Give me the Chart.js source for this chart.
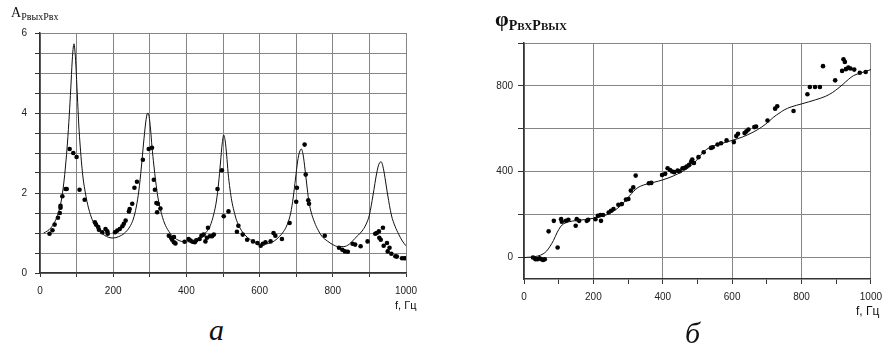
<!DOCTYPE html>
<html>
<head>
<meta charset="utf-8">
<script src="https://cdn.jsdelivr.net/npm/chart.js@4"></script>
<style>
  body { margin: 0; background: #fff; width: 889px; height: 347px; position: relative; overflow: hidden; }
  .box { position: absolute; }
  .txt { position: absolute; white-space: nowrap; color: #111; }
  .serif { font-family: "Liberation Serif", "Times New Roman", serif; }
  .sans { font-family: "Liberation Sans", Arial, sans-serif; }
</style>
</head>
<body>
<div class="box" style="left:0;top:0;width:430px;height:300px"><canvas id="chartAmp"></canvas></div>
<div class="box" style="left:470px;top:0;width:419px;height:310px"><canvas id="chartPhase"></canvas></div>

<div class="txt serif" style="left:11px;top:5px;font-size:14px">A<span style="font-size:10px;position:relative;top:3px">PвыхPвх</span></div>
<div class="txt serif" style="left:495px;top:6px;font-size:22px;font-weight:bold">φ<span style="font-size:14px;position:relative;top:4px">P<span style="font-size:11px">ВХ</span>P<span style="font-size:11px">ВЫХ</span></span></div>
<div class="txt sans" style="left:395px;top:299px;font-size:11px">f, Гц</div>
<div class="txt sans" style="left:856px;top:304px;font-size:12px">f, Гц</div>
<div class="txt serif" style="left:209px;top:313px;font-size:30px;font-style:italic">а</div>
<div class="txt serif" style="left:685px;top:316px;font-size:30px;font-style:italic">б</div>

<script>
// --- амплитуда: расчётная кривая ---
const ampCurveF = [10, 20, 30, 40, 50, 58, 65, 70, 75, 80, 84, 88, 91, 93, 95, 98, 102, 106, 110, 114, 118, 124, 130, 140, 150, 162, 175, 188,
  200, 215, 230, 245, 255, 263, 270, 277, 283, 288, 292, 295, 298, 302, 306, 311, 316, 322, 330, 340, 352, 365, 380, 395,
  410, 425, 440, 455, 465, 475, 482, 488, 493, 498, 502, 506, 510, 514, 519, 524, 530, 537, 548, 560, 575, 590,
  605, 620, 640, 655, 665, 675, 685, 692, 698, 704, 709, 714, 719, 724, 729, 734, 740, 750, 760, 770, 785,
  800, 815, 830, 845, 860, 870, 880, 890, 900, 910, 920, 926, 932, 938, 944, 950, 960, 970, 980, 990, 1000];
const ampCurveA = [1.0, 1.05, 1.13, 1.27, 1.5, 1.8, 2.25, 2.7, 3.25, 3.95, 4.6, 5.3, 5.65, 5.73, 5.6, 5.2, 4.45, 3.7, 3.15, 2.7, 2.35, 2.0, 1.72, 1.4, 1.2, 1.05, 0.95, 0.89,
  0.875, 0.91, 0.99, 1.15, 1.35, 1.65, 2.05, 2.65, 3.25, 3.7, 3.95, 4.0, 3.92, 3.6, 3.15, 2.7, 2.3, 1.9, 1.55, 1.25, 1.04, 0.9, 0.81, 0.78,
  0.79, 0.83, 0.92, 1.03, 1.18, 1.48, 1.8, 2.25, 2.75, 3.25, 3.45, 3.3, 2.95, 2.5, 2.1, 1.8, 1.55, 1.32, 1.1, 0.95, 0.83, 0.75,
  0.71, 0.73, 0.8, 0.92, 1.03, 1.2, 1.5, 1.9, 2.35, 2.8, 3.02, 3.1, 2.95, 2.6, 2.2, 1.83, 1.55, 1.27, 1.07, 0.92, 0.8,
  0.71, 0.66, 0.66, 0.72, 0.86, 0.95, 1.05, 1.2, 1.45, 1.95, 2.5, 2.72, 2.78, 2.62, 2.3, 1.95, 1.45, 1.17, 0.97, 0.8, 0.68];

// --- амплитуда: эксперимент ---
const ampDotsF = [26, 34, 40, 49, 54, 56, 56, 61, 70, 73, 81, 91, 100, 108, 122, 150, 153, 159, 161, 170, 179, 184, 185,
  205, 211, 218, 225, 229, 234, 243, 245, 252, 258, 265, 281, 297, 306, 311, 314, 318, 320, 322, 329,
  352, 358, 361, 366, 366, 370, 395, 406, 411, 417, 423, 427, 436, 441, 447, 452, 456, 459, 464, 470, 475,
  485, 497, 502, 515, 538, 542, 554, 566, 582, 594, 603, 609, 616, 630, 638, 643, 661, 682, 700, 702, 723, 726, 733, 735,
  778, 817, 826, 833, 841, 854, 861, 876, 895, 916, 920, 926, 927, 931, 937, 939, 948, 950, 955, 960, 971, 975, 989, 995, 1000];
const ampDotsA = [0.98, 1.07, 1.21, 1.38, 1.5, 1.63, 1.68, 1.92, 2.1, 2.1, 3.1, 3.0, 2.9, 2.08, 1.83, 1.27, 1.21, 1.15, 1.08, 1.02, 1.1, 1.04, 0.98,
  1.02, 1.06, 1.1, 1.17, 1.23, 1.31, 1.54, 1.6, 1.73, 2.13, 2.28, 2.83, 3.1, 3.13, 2.33, 2.08, 1.75, 1.52, 1.73, 1.61,
  0.93, 0.88, 0.83, 0.77, 0.9, 0.74, 0.78, 0.85, 0.81, 0.78, 0.77, 0.82, 0.85, 0.93, 0.96, 0.79, 0.88, 1.13, 0.92, 0.92, 0.96,
  2.1, 2.57, 1.42, 1.54, 1.03, 1.18, 0.96, 0.83, 0.79, 0.75, 0.68, 0.73, 0.77, 0.79, 1.0, 0.93, 0.85, 1.25, 1.78, 2.13, 3.21, 2.46, 1.82, 1.73,
  0.93, 0.63, 0.58, 0.54, 0.53, 0.73, 0.71, 0.67, 0.79, 0.98, 1.0, 1.04, 0.88, 0.83, 1.13, 0.68, 0.75, 0.54, 0.63, 0.48, 0.42, 0.41, 0.37, 0.37, 0.37];

// --- фаза: расчётная кривая ---
const phaseCurveF = [0, 20, 40, 55, 65, 75, 85, 95, 105, 115, 130, 150, 175, 200, 225, 250, 270, 285, 298, 310, 322, 335, 355, 375,
  400, 430, 455, 475, 490, 502, 514, 527, 545, 570, 600, 630, 660, 685, 705, 720, 735, 750, 770,
  800, 840, 870, 890, 905, 920, 935, 950, 970, 1000];
const phaseCurveP = [0, 2, 7, 17, 30, 52, 80, 115, 143, 158, 167, 172, 177, 183, 192, 208, 230, 252, 276, 298, 318, 332, 343, 351,
  362, 380, 400, 420, 440, 462, 486, 505, 519, 532, 546, 562, 584, 608, 633, 655, 672, 688, 702,
  716, 735, 752, 770, 788, 808, 830, 848, 860, 876];

// --- фаза: эксперимент ---
const phaseDotsF = [26, 33, 39, 45, 50, 55, 60, 71, 86, 97, 107, 109, 121, 128, 149, 152, 159, 181, 185, 206, 213, 220, 222, 228,
  244, 251, 258, 272, 282, 294, 301, 308, 315, 322, 360, 367, 398, 407, 414, 421, 427, 433, 443, 449, 457, 464, 469, 476,
  482, 485, 490, 503, 518, 539, 544, 558, 568, 584, 605, 612, 617, 636, 641, 647, 664, 669, 702, 724, 730, 777,
  817, 824, 839, 853, 862, 897, 917, 921, 925, 928, 935, 941, 952, 968, 985];
const phaseDotsP = [0, -8, -8, -3, -8, -11, -8, 122, 171, 47, 179, 167, 171, 176, 148, 179, 171, 171, 176, 179, 195, 198, 171, 198,
  210, 218, 226, 246, 249, 270, 273, 312, 327, 382, 346, 348, 385, 390, 416, 408, 401, 398, 405, 402, 416, 418, 424, 432,
  447, 457, 441, 468, 491, 511, 514, 527, 533, 546, 538, 566, 577, 580, 588, 597, 608, 611, 639, 694, 705, 683,
  761, 795, 795, 795, 892, 826, 870, 924, 912, 878, 885, 881, 876, 861, 865];

// подписи делений
const ampXLabels = [0, 200, 400, 600, 800, 1000];
const ampYLabels = [0, 2, 4, 6];
const phaseXLabels = [0, 200, 400, 600, 800, 1000];
const phaseYLabels = [0, 400, 800];
const phaseYTicks = [-100, 0, 200, 400, 600, 800, 1000];

const tickFont = { family: "Liberation Sans, Arial, sans-serif", size: 10 };
const gridColor = "#858585";
const axisColor = "#333";

function toPoints(xs, ys) {
  return xs.map((x, i) => ({ x, y: ys[i] }));
}

function makeChart(id, opt) {
  return new Chart(document.getElementById(id), {
    type: "scatter",
    data: {
      datasets: [
        {
          data: toPoints(opt.curveX, opt.curveY),
          showLine: true,
          borderColor: "#111",
          borderWidth: 1,
          pointRadius: 0,
          cubicInterpolationMode: "monotone",
        },
        {
          data: toPoints(opt.dotsX, opt.dotsY),
          pointRadius: 2.3,
          pointBackgroundColor: "#000",
          pointBorderWidth: 0,
        },
      ],
    },
    options: {
      responsive: true,
      maintainAspectRatio: false,
      animation: false,
      events: [],
      layout: { padding: opt.padding },
      plugins: { legend: { display: false }, tooltip: { enabled: false } },
      scales: {
        x: opt.x,
        y: opt.y,
      },
    },
  });
}

// --- левый график (а) ---
makeChart("chartAmp", {
  curveX: ampCurveF, curveY: ampCurveA, dotsX: ampDotsF, dotsY: ampDotsA,
  padding: { top: 33, right: 24, bottom: 0, left: 0 },
  x: {
    type: "linear", min: 0, max: 1000,
    afterFit: (s) => { s.height = 27; },
    ticks: {
      stepSize: 100, autoSkip: false, maxRotation: 0, padding: 8, color: "#222", font: tickFont,
      callback: (v) => (ampXLabels.includes(v) ? String(v) : ""),
    },
    grid: { color: gridColor, tickColor: axisColor, tickLength: 4 },
    border: { color: axisColor, width: 1.5 },
  },
  y: {
    min: 0, max: 6,
    afterFit: (s) => { s.width = 40; },
    ticks: {
      stepSize: 0.5, autoSkip: false, padding: 8, color: "#222", font: tickFont,
      callback: (v) => (ampYLabels.includes(v) ? String(v) : ""),
    },
    grid: { color: gridColor, tickColor: axisColor, tickLength: 5 },
    border: { color: axisColor, width: 1.5 },
  },
});

// --- правый график (б) ---
makeChart("chartPhase", {
  curveX: phaseCurveF, curveY: phaseCurveP, dotsX: phaseDotsF, dotsY: phaseDotsP,
  padding: { top: 43, right: 12, bottom: 0, left: 0 },
  x: {
    type: "linear", min: 0, max: 1000,
    afterFit: (s) => { s.height = 31; },
    ticks: {
      stepSize: 100, autoSkip: false, maxRotation: 0, padding: 7, color: "#222", font: tickFont,
      callback: (v) => (phaseXLabels.includes(v) ? String(v) : ""),
    },
    grid: {
      color: (c) => (c.tick && c.tick.value % 200 !== 0 ? "rgba(0,0,0,0)" : gridColor),
      tickColor: axisColor, tickLength: 5,
    },
    border: { color: axisColor, width: 1.5 },
  },
  y: {
    min: -100, max: 1000,
    afterFit: (s) => { s.width = 54; },
    afterBuildTicks: (s) => { s.ticks = phaseYTicks.map((v) => ({ value: v })); },
    ticks: {
      autoSkip: false, padding: 5, color: "#222", font: tickFont,
      callback: (v) => (phaseYLabels.includes(v) ? String(v) : ""),
    },
    grid: {
      color: (c) => (c.tick && c.tick.value === -100 ? "rgba(0,0,0,0)" : gridColor),
      tickColor: (c) => (c.tick && c.tick.value === -100 ? "rgba(0,0,0,0)" : axisColor),
      tickLength: 6,
    },
    border: { color: axisColor, width: 1.5 },
  },
});
</script>
</body>
</html>
